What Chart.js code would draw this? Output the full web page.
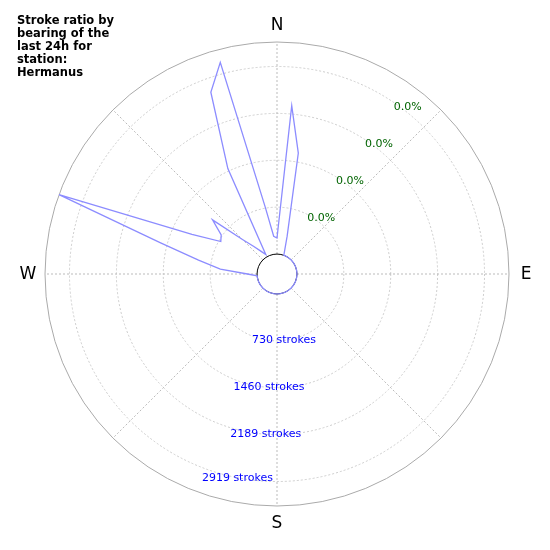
<!DOCTYPE html>
<html>
<head>
<meta charset="utf-8">
<script src="https://cdn.jsdelivr.net/npm/chart.js@4.4.0/dist/chart.umd.min.js"></script>
<style>
  body { margin: 0; background: #fff; }
  #wrap { width: 550px; height: 550px; position: relative; }
</style>
</head>
<body>
<div id="wrap"><canvas id="rose"></canvas></div>
<script>
// bearings in 5 degree steps, clockwise from north
const bearings = [];
for (let b = 0; b < 360; b += 5) bearings.push(b);

// strokes per bearing bin (bins not listed are 0)
const strokeBins = {
  0: 250, 5: 2320, 10: 1600, 15: 300,
  270: 150, 275: 575, 280: 930, 285: 1565, 290: 3300, 295: 1150,
  300: 700, 305: 750, 310: 1000, 315: 450, 320: 250, 325: 120, 330: 40,
  335: 1500, 340: 2700, 345: 3100, 350: 750, 355: 280
};
const strokes = bearings.map(b => strokeBins[b] || 0);

const ringValues = [730, 1460, 2189, 2919];
const ringLabels = ['730 strokes', '1460 strokes', '2189 strokes', '2919 strokes'];
const ringLabelBearings = [174, 184, 184, 191];
const pctLabels = ['0.0%', '0.0%', '0.0%', '0.0%'];
const compass = [['N', 0], ['E', 90], ['S', 180], ['W', 270]];
const titleLines = ['Stroke ratio by', 'bearing of the', 'last 24h for', 'station:', 'Hermanus'];

const holeValue = -310;
const maxValue = 3300;

function polarXY(scale, value, bearing) {
  const r = scale.getDistanceFromCenterForValue(value);
  const a = (bearing - 90) * Math.PI / 180;
  return [scale.xCenter + r * Math.cos(a), scale.yCenter + r * Math.sin(a)];
}

const decorations = {
  id: 'decorations',
  beforeDatasetsDraw(chart) {
    const s = chart.scales.r;
    const ctx = chart.ctx;
    ctx.save();
    ctx.strokeStyle = '#aaa';
    ctx.lineWidth = 1;
    ctx.beginPath();
    ctx.arc(s.xCenter, s.yCenter, s.drawingArea, 0, Math.PI * 2);
    ctx.stroke();
    // hole
    const hr = s.getDistanceFromCenterForValue(0);
    ctx.fillStyle = '#fff';
    ctx.strokeStyle = '#000';
    ctx.beginPath();
    ctx.arc(s.xCenter, s.yCenter, hr, 0, Math.PI * 2);
    ctx.fill();
    ctx.stroke();
    ctx.restore();
  },
  afterDraw(chart) {
    const s = chart.scales.r;
    const ctx = chart.ctx;
    ctx.save();
    ctx.textAlign = 'center';
    ctx.textBaseline = 'middle';
    ctx.font = '11px "DejaVu Sans"';
    ctx.fillStyle = '#0000ff';
    ringValues.forEach((v, i) => {
      const [x, y] = polarXY(s, v, ringLabelBearings[i]);
      ctx.fillText(ringLabels[i], x, y);
    });
    ctx.fillStyle = '#006400';
    ringValues.forEach((v, i) => {
      const [x, y] = polarXY(s, v, 38);
      ctx.fillText(pctLabels[i], x + 3, y - 3);
    });
    ctx.fillStyle = '#000';
    ctx.font = '17px "DejaVu Sans"';
    compass.forEach(([t, b]) => {
      const r = s.drawingArea + 17;
      const a = (b - 90) * Math.PI / 180;
      ctx.fillText(t, s.xCenter + r * Math.cos(a), s.yCenter + r * Math.sin(a) + 1);
    });
    ctx.textAlign = 'left';
    ctx.font = 'bold 11.5px "DejaVu Sans"';
    titleLines.forEach((t, i) => ctx.fillText(t, 17, 21 + i * 13));
    ctx.restore();
  }
};

new Chart(document.getElementById('rose'), {
  type: 'radar',
  data: {
    labels: bearings.map(String),
    datasets: [{
      data: strokes,
      borderColor: 'rgba(140,140,255,1)',
      borderWidth: 1.3,
      fill: false,
      pointRadius: 0,
      tension: 0
    }]
  },
  options: {
    responsive: true,
    maintainAspectRatio: false,
    animation: false,
    layout: { padding: { left: 45, right: 41, top: 42, bottom: 44 } },
    plugins: { legend: { display: false }, tooltip: { enabled: false } },
    scales: {
      r: {
        min: holeValue,
        max: maxValue,
        afterBuildTicks(scale) {
          scale.ticks = [holeValue, 0].concat(ringValues, [maxValue]).map(v => ({ value: v }));
        },
        ticks: { display: false },
        pointLabels: { display: false },
        grid: {
          circular: true,
          color: ctx => ringValues.includes(ctx.tick && ctx.tick.value) ? '#ccc' : 'rgba(0,0,0,0)'
        },
        border: { dash: [2, 2] },
        angleLines: {
          color: ctx => ctx.index % 9 === 0 ? '#bbb' : 'rgba(0,0,0,0)',
          borderDash: [2, 2]
        }
      }
    }
  },
  plugins: [decorations]
});
</script>
</body>
</html>
